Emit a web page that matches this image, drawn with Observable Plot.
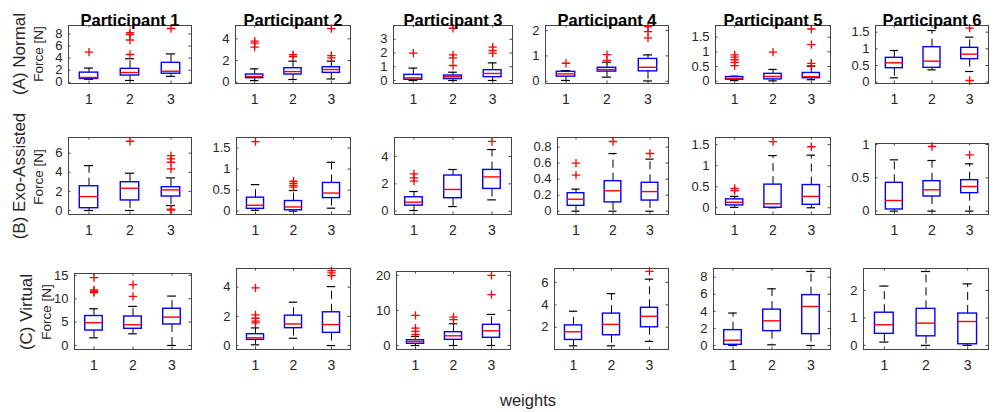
<!DOCTYPE html>
<html><head><meta charset="utf-8">
<script src="https://cdn.jsdelivr.net/npm/d3@7"></script>
<script src="https://cdn.jsdelivr.net/npm/@observablehq/plot@0.6"></script>
<style>
html,body{margin:0;padding:0;background:#fff;}
#chart{position:relative;width:994px;height:412px;overflow:hidden;font-family:"Liberation Sans",Arial,Helvetica,sans-serif;color:#262626;}
.lbl{position:absolute;white-space:nowrap;line-height:1;transform:translate(-50%,-50%) rotate(-90deg);}
.xl{position:absolute;white-space:nowrap;line-height:1;transform:translate(-50%,-50%);}
</style></head><body><div id="chart"></div>
<script>
const participants = ["Participant 1","Participant 2","Participant 3","Participant 4","Participant 5","Participant 6"];
const conditions = ["(A) Normal","(B) Exo-Assisted","(C) Virtual"];
const weights = [1, 2, 3];
const yLabel = "Force [N]";
const xLabel = "weights";

// box statistics per participant, per weight: [lower whisker, q1, median, q3, upper whisker]
const normalStats = [
  [[0.5,0.55,0.8,1.6,2.35],[0.3,1.12,1.62,2.23,3.9],[0.98,1.42,1.83,3.22,4.7]],
  [[0.15,0.37,0.52,0.71,1.23],[0.25,0.71,0.98,1.29,1.94],[0.3,0.86,1.17,1.38,1.94]],
  [[0,0.05,0.19,0.41,0.9],[0,0.1,0.27,0.36,0.6],[0,0.24,0.51,0.75,1.28]],
  [[0.03,0.18,0.29,0.37,0.42],[0.16,0.38,0.46,0.53,0.75],[0.01,0.39,0.55,0.88,1.04]],
  [[0.02,0.05,0.09,0.14,0.17],[0.01,0.06,0.16,0.25,0.4],[0.05,0.1,0.15,0.28,0.51]],
  [[0.13,0.42,0.58,0.73,0.95],[0.37,0.43,0.63,1.05,1.55],[0.32,0.69,0.84,1.03,1.35]]
];
const normalOutliers = [
  [[5.0],[8.2,7.9,7.0,4.6],[8.9]],
  [[3.78,3.6,3.23],[2.55,2.37],[4.95,2.46,2.25]],
  [[1.99],[3.8,1.86,1.65,1.09],[2.42,2.18,1.99]],
  [[0.71],[1.05,0.82],[2.16,1.96,1.71]],
  [[0.9,0.82,0.73,0.64,0.53],[0.99],[1.78,1.25,0.61,0.52]],
  [[],[],[1.62,0.05]]
];
const exoStats = [
  [[0,0.24,1.46,2.54,4.7],[0,1.05,2.33,2.96,3.9],[0.52,1.46,2.16,2.44,3.41]],
  [[0.02,0.055,0.14,0.32,0.63],[0,0.02,0.1,0.24,0.49],[0.07,0.31,0.43,0.67,1.16]],
  [[0.05,0.41,0.66,1.02,1.44],[0.34,0.95,1.59,2.61,3.05],[0.83,1.63,2.51,3.02,4.51]],
  [[0,0.067,0.15,0.225,0.275],[0,0.11,0.255,0.375,0.72],[0,0.133,0.245,0.355,0.65]],
  [[0.01,0.055,0.13,0.2,0.27],[0,0,0.095,0.55,1.24],[0,0.07,0.27,0.54,1.25]],
  [[0,0.025,0.16,0.425,0.77],[0,0.22,0.32,0.45,0.76],[0,0.27,0.37,0.465,0.71]]
];
const exoOutliers = [
  [[],[7.25],[5.75,5.4,5.05,4.36,0.15,0.05]],
  [[1.65],[0.71,0.66,0.61,0.57],[]],
  [[2.73,2.44,2.2],[],[5.1]],
  [[0.6,0.45],[0.87],[0.72]],
  [[0.46,0.41],[1.57],[1.45]],
  [[],[0.97],[0.845]]
];
const virtualStats = [
  [[1.64,3.2,4.86,6.3,7.86],[2.5,3.57,4.43,6.2,8.36],[0,4.5,6.07,7.86,10.57]],
  [[0.05,0.39,0.53,0.78,1.21],[0.5,1.19,1.48,2.05,2.97],[0,0.87,1.44,2.28,4.04]],
  [[0,0.48,1.14,1.52,2.57],[0,1.62,2.76,3.8,6.19],[0,2.19,4.19,5.9,8.86]],
  [[0.35,0.87,1.6,2.17,3.43],[0.35,1.29,2.26,3.22,5.0],[0.74,2.0,2.98,3.74,6.29]],
  [[0,0.08,0.62,1.8,3.8],[0.08,1.68,2.89,4.2,6.64],[0,1.33,4.57,5.9,8.67]],
  [[0.12,0.42,0.75,1.19,2.16],[0,0.33,0.81,1.33,2.69],[0,0.04,0.87,1.16,2.24]]
];
const virtualOutliers = [
  [[14.5,11.9,11.6,11.3],[13.0,10.5],[]],
  [[3.95,2.1,1.87,1.67,1.55],[],[5.14,4.98,4.8]],
  [[8.57,4.95,4.0,3.14],[8.1,7.4],[20.0,14.5]],
  [[],[],[6.98]],
  [[],[],[]],
  [[],[],[]]
];

// y tick labels and y limits per panel
const normalYTicks = [[0,2,4,6,8],[0,2,4],[0,1,2,3],[0,1,2],[0,0.5,1,1.5],[0,0.5,1,1.5]];
const exoYTicks = [[0,2,4,6],[0,0.5,1,1.5],[0,2,4],[0,0.2,0.4,0.6,0.8],[0,0.5,1,1.5],[0,0.5,1]];
const virtualYTicks = [[0,5,10,15],[0,2,4],[0,10,20],[2,4,6],[0,2,4,6,8],[0,1,2]];
const normalYDomain = [[-0.2,9.4],[-0.12,5.23],[-0.22,4.0],[-0.09,2.2],[-0.08,1.9],[-0.04,1.7]];
const exoYDomain = [[-0.42,7.64],[-0.08,1.75],[-0.24,5.39],[-0.041,0.92],[-0.16,1.67],[-0.05,1.015]];
const virtualYDomain = [[-0.86,15.4],[-0.27,5.28],[-1.14,21.1],[0.02,7.24],[-0.47,9.02],[-0.15,2.8]];

// layout: axes rectangles [left, top, right, bottom] in page pixels
const normalRects = [[68,25,191,83],[235,25,350,83],[393,25,512,83],[545,25,668,83],[715,25,830,83],[875,25,988,83]];
const exoRects = [[68,137,191,214],[236,137,350,214],[394,137,511,214],[557,137,668,214],[715,137,830,214],[875,143,988,214]];
const virtualRects = [[74,273,191,349],[236,268,350,349],[396,271,510,349],[554,268,668,349],[713,268,830,349],[863,268,988,349]];

const chart = document.getElementById("chart");
const axisColor = "#454545";
const rows = [
  {stats: normalStats, outs: normalOutliers, ticks: normalYTicks, dom: normalYDomain, rects: normalRects},
  {stats: exoStats, outs: exoOutliers, ticks: exoYTicks, dom: exoYDomain, rects: exoRects},
  {stats: virtualStats, outs: virtualOutliers, ticks: virtualYTicks, dom: virtualYDomain, rects: virtualRects}
];

const BW = 0.225, CW = 0.11, TL = 2.5;
rows.forEach((row, ri) => {
  row.stats.forEach((pStats, pi) => {
    const [L, T, R, B] = row.rects[pi];
    const w = R - L, h = B - T;
    const mL = 45, mR = 6, mT = 26, mB = 30;
    const dom = row.dom[pi];
    const ticks = row.ticks[pi];
    const boxes = pStats.map((s, wi) => ({w: weights[wi], lo: s[0], q1: s[1], med: s[2], q3: s[3], hi: s[4]}));
    const outs = row.outs[pi].flatMap((arr, wi) => arr.map(v => ({w: weights[wi], v})));
    const ky = (dom[1] - dom[0]) / h * TL, kx = 3 / w * TL;
    const marks = [
      Plot.ruleX(weights, {x: d => d, y1: dom[0], y2: dom[0] + ky, stroke: axisColor}),
      Plot.ruleX(weights, {x: d => d, y1: dom[1], y2: dom[1] - ky, stroke: axisColor}),
      Plot.ruleY(ticks, {y: d => d, x1: 0.5, x2: 0.5 + kx, stroke: axisColor}),
      Plot.ruleY(ticks, {y: d => d, x1: 3.5, x2: 3.5 - kx, stroke: axisColor}),
      Plot.axisY({ticks, tickSize: 0, tickPadding: 6, tickFormat: d => String(d), label: null, fontSize: 13}),
      Plot.axisX({ticks: weights, tickSize: 0, tickPadding: 11, tickFormat: d => String(d), label: null, fontSize: 14}),
      Plot.ruleX(boxes, {x: "w", y1: "q3", y2: "hi", stroke: "#000", strokeWidth: 1, strokeDasharray: "8,5"}),
      Plot.ruleX(boxes, {x: "w", y1: "q1", y2: "lo", stroke: "#000", strokeWidth: 1, strokeDasharray: "8,5"}),
      Plot.ruleY(boxes, {y: "hi", x1: d => d.w - CW, x2: d => d.w + CW, stroke: "#000", strokeWidth: 1.2}),
      Plot.ruleY(boxes, {y: "lo", x1: d => d.w - CW, x2: d => d.w + CW, stroke: "#000", strokeWidth: 1.2}),
      Plot.rect(boxes, {x1: d => d.w - BW, x2: d => d.w + BW, y1: "q1", y2: "q3", fill: "none", stroke: "#0000ff", strokeWidth: 1.4}),
      Plot.ruleY(boxes, {y: "med", x1: d => d.w - BW, x2: d => d.w + BW, stroke: "#ff0000", strokeWidth: 1.4}),
      Plot.dot(outs, {x: "w", y: "v", symbol: "plus", r: 2.8, stroke: "#ff0000", fill: "none", strokeWidth: 1.3}),
      Plot.frame({stroke: axisColor, strokeWidth: 1})
    ];
    if (ri === 0) {
      marks.push(Plot.text([participants[pi]], {text: d => d, frameAnchor: "top", dy: -11, fontWeight: "bold", fontSize: 16.5, fill: "#000"}));
    }
    const svg = Plot.plot({
      width: w + mL + mR, height: h + mT + mB,
      marginLeft: mL, marginRight: mR, marginTop: mT, marginBottom: mB,
      style: {background: "transparent", overflow: "visible", fontFamily: "'Liberation Sans', Arial, Helvetica, sans-serif", color: "#262626"},
      x: {domain: [0.5, 3.5]},
      y: {domain: dom},
      marks
    });
    svg.style.position = "absolute";
    svg.style.left = (L - mL) + "px";
    svg.style.top = (T - mT) + "px";
    chart.appendChild(svg);
  });
});

function addLabel(text, cls, x, y, size) {
  const d = document.createElement("div");
  d.className = cls;
  d.textContent = text;
  d.style.left = x + "px";
  d.style.top = y + "px";
  d.style.fontSize = size + "px";
  chart.appendChild(d);
}
const rowLabelPos = [[19, 53.5], [19, 176], [25.5, 312]];
const yLabelPos = [[39, 54], [39, 177], [46.5, 312]];
conditions.forEach((c, i) => {
  addLabel(c, "lbl", rowLabelPos[i][0], rowLabelPos[i][1], 17);
  addLabel(yLabel, "lbl", yLabelPos[i][0], yLabelPos[i][1], 13.5);
});
addLabel(xLabel, "xl", 528, 400, 16.5);
</script></body></html>
